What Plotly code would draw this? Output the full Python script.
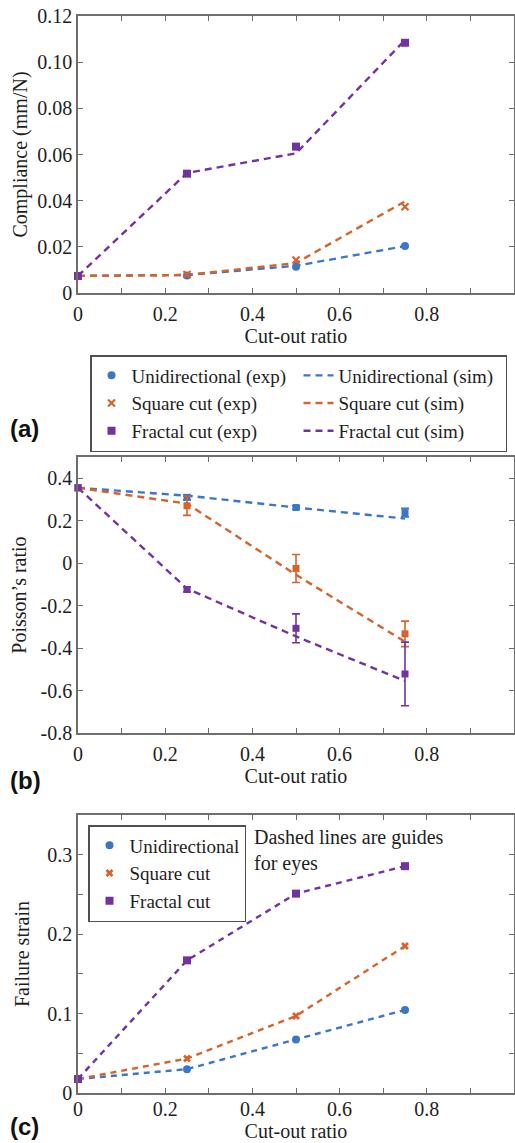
import plotly.graph_objects as go

W, H = 515, 1143

# ---------------- data ----------------
cut_ratio = [0, 0.25, 0.5, 0.75]

# (a) Compliance (mm/N)
comp_uni_exp = [0.0074, 0.0076, 0.0114, 0.0204]
comp_uni_sim = [0.0074, 0.0078, 0.0118, 0.0203]
comp_sq_exp = [0.0074, 0.0080, 0.0143, 0.0374]
comp_sq_sim = [0.0074, 0.0078, 0.0130, 0.0397]
comp_fr_exp = [0.0074, 0.0517, 0.0634, 0.1084]
comp_fr_sim = [0.0074, 0.0520, 0.0605, 0.1096]

# (b) Poisson's ratio
pr_uni_exp = [0.355, 0.310, 0.262, 0.238]
pr_uni_err = [0.0, 0.012, 0.008, 0.020]
pr_sq_exp = [0.355, 0.270, -0.025, -0.333]
pr_sq_err = [0.0, 0.045, 0.066, 0.060]
pr_fr_exp = [0.355, -0.124, -0.307, -0.522]
pr_fr_err = [0.0, 0.012, 0.068, 0.150]
pr_uni_sim = [0.355, 0.318, 0.262, 0.210]
pr_sq_sim = [0.355, 0.280, -0.055, -0.370]
pr_fr_sim = [0.355, -0.120, -0.345, -0.555]

# (c) Failure strain
fs_uni = [0.0177, 0.0300, 0.0675, 0.1046]
fs_sq = [0.0177, 0.0434, 0.0970, 0.1850]
fs_fr = [0.0177, 0.1670, 0.2510, 0.2856]

x_ticks = [0, 0.1, 0.2, 0.3, 0.4, 0.5, 0.6, 0.7, 0.8, 0.9, 1.0]
x_ticktext = ["0", "", "0.2", "", "0.4", "", "0.6", "", "0.8", "", "1"]
ya_ticks = [0, 0.02, 0.04, 0.06, 0.08, 0.10, 0.12]
ya_ticktext = ["0", "0.02", "0.04", "0.06", "0.08", "0.10", "0.12"]
yb_ticks = [-0.8, -0.6, -0.4, -0.2, 0, 0.2, 0.4]
yb_ticktext = ["-0.8", "-0.6", "-0.4", "-0.2", "0", "0.2", "0.4"]
yc_ticks = [0, 0.05, 0.1, 0.15, 0.2, 0.25, 0.3]
yc_ticktext = ["0", "", "0.1", "", "0.2", "", "0.3"]

names = ["Unidirectional", "Square cut", "Fractal cut"]

# ---------------- style ----------------
BLUE = "#3B77C6"
ORANGE = "#D6632B"
PURPLE = "#7233A0"
SERIF = "Liberation Serif, Times New Roman, serif"
AX = "#6E6E6E"
TXT = "#1E1E1E"
DASH = "7px,5px"

fig = go.Figure()

cols = [BLUE, ORANGE, PURPLE]

# ---- panel (a) ----
sims_a = [comp_uni_sim, comp_sq_sim, comp_fr_sim]
exps_a = [comp_uni_exp, comp_sq_exp, comp_fr_exp]
syms_a = ["circle", "x-thin", "square"]
for i in range(3):
    fig.add_trace(go.Scatter(
        x=cut_ratio, y=sims_a[i], mode="lines", name=names[i] + " (sim)",
        line=dict(color=cols[i], width=2.4, dash=DASH),
        xaxis="x", yaxis="y", legend="legend", legendrank=2 * i + 2, cliponaxis=False))
for i in range(3):
    fig.add_trace(go.Scatter(
        x=cut_ratio, y=exps_a[i], mode="markers", name=names[i] + " (exp)",
        marker=dict(color=cols[i], size=8 if i != 1 else 7, symbol=syms_a[i],
                    line=dict(color=cols[i], width=2.2 if i == 1 else 0)),
        xaxis="x", yaxis="y", legend="legend", legendrank=2 * i + 1, cliponaxis=False))

# ---- panel (b) ----
sims_b = [pr_uni_sim, pr_sq_sim, pr_fr_sim]
exps_b = [pr_uni_exp, pr_sq_exp, pr_fr_exp]
errs_b = [pr_uni_err, pr_sq_err, pr_fr_err]
for i in range(3):
    fig.add_trace(go.Scatter(
        x=cut_ratio, y=sims_b[i], mode="lines", showlegend=False,
        line=dict(color=cols[i], width=2.4, dash=DASH),
        xaxis="x2", yaxis="y2", cliponaxis=False))
for i in range(3):
    fig.add_trace(go.Scatter(
        x=cut_ratio, y=exps_b[i], mode="markers", showlegend=False,
        marker=dict(color=cols[i], size=7, symbol="square"),
        error_y=dict(type="data", array=errs_b[i], color=cols[i], thickness=1.6, width=4),
        xaxis="x2", yaxis="y2", cliponaxis=False))

# ---- panel (c) ----
vals_c = [fs_uni, fs_sq, fs_fr]
syms_c = ["circle", "x", "square"]
for i in range(3):
    fig.add_trace(go.Scatter(
        x=cut_ratio, y=vals_c[i], mode="lines", showlegend=False,
        line=dict(color=cols[i], width=2.4, dash="6px,5px"),
        xaxis="x3", yaxis="y3", cliponaxis=False))
for i in range(3):
    fig.add_trace(go.Scatter(
        x=cut_ratio, y=vals_c[i], mode="markers", name=names[i],
        marker=dict(color=cols[i], size=8 if i != 1 else 7, symbol=syms_c[i]),
        xaxis="x3", yaxis="y3", legend="legend2", cliponaxis=False))


def py(px):
    return 1 - px / H


XDOM = [78 / W, 514 / W]
axis_common = dict(
    showline=True, linecolor=AX, linewidth=1.5, mirror="ticks",
    ticks="inside", ticklen=5, tickcolor=AX, tickwidth=1.3,
    showgrid=False, zeroline=False, automargin=False,
    tickfont=dict(family=SERIF, size=20, color=TXT),
)


def xaxis(anchor, lab_off, standoff):
    return dict(axis_common, domain=XDOM, anchor=anchor, range=[0, 1],
                tickmode="array", tickvals=x_ticks, ticktext=x_ticktext,
                ticklabelstandoff=lab_off,
                title=dict(text="Cut-out ratio", font=dict(family=SERIF, size=20, color=TXT),
                           standoff=standoff))


def yaxis(anchor, dom, rng, tv, tt, title, standoff):
    return dict(axis_common, domain=dom, anchor=anchor, range=rng,
                tickmode="array", tickvals=tv, ticktext=tt,
                title=dict(text=title, font=dict(family=SERIF, size=20, color=TXT),
                           standoff=standoff))


fig.update_layout(
    width=W, height=H,
    margin=dict(l=0, r=0, t=0, b=0),
    paper_bgcolor="white", plot_bgcolor="white",
    showlegend=True,
    xaxis=xaxis("y", 2, 2),
    yaxis=yaxis("x", [py(293), py(16)], [0, 0.12], ya_ticks, ya_ticktext,
                "Compliance (mm/N)", 4),
    xaxis2=xaxis("y2", 2, 4),
    yaxis2=yaxis("x2", [py(733), py(457)], [-0.8, 0.5], yb_ticks, yb_ticktext,
                 "Poisson’s ratio", 9),
    xaxis3=xaxis("y3", -3, 2),
    yaxis3=yaxis("x3", [py(1093), py(815)], [0, 0.35], yc_ticks, yc_ticktext,
                 "Failure strain", 12),
    legend=dict(
        x=90 / W, y=py(355), xanchor="left", yanchor="top",
        orientation="h", entrywidth=162, entrywidthmode="pixels",
        traceorder="normal",
        font=dict(family=SERIF, size=19, color=TXT),
        bordercolor="#505050", borderwidth=1.5, bgcolor="white",
        itemsizing="trace",
    ),
    legend2=dict(
        x=88 / W, y=py(825), xanchor="left", yanchor="top",
        orientation="v", traceorder="normal",
        font=dict(family=SERIF, size=19, color=TXT),
        bordercolor="#505050", borderwidth=1.5, bgcolor="white",
        itemsizing="trace", tracegroupgap=0,
    ),
    annotations=[
        dict(text="Dashed lines are guides<br>for eyes", xref="paper", yref="paper",
             x=252 / W, y=py(824), xanchor="left", yanchor="top", align="left",
             showarrow=False, font=dict(family=SERIF, size=20, color=TXT)),
        dict(text="<b>(a)</b>", xref="paper", yref="paper", x=8 / W, y=py(428),
             xanchor="left", yanchor="middle", showarrow=False,
             font=dict(family="Liberation Sans, Arial, sans-serif", size=24, color="#111")),
        dict(text="<b>(b)</b>", xref="paper", yref="paper", x=8 / W, y=py(780),
             xanchor="left", yanchor="middle", showarrow=False,
             font=dict(family="Liberation Sans, Arial, sans-serif", size=24, color="#111")),
        dict(text="<b>(c)</b>", xref="paper", yref="paper", x=8 / W, y=py(1126),
             xanchor="left", yanchor="middle", showarrow=False,
             font=dict(family="Liberation Sans, Arial, sans-serif", size=24, color="#111")),
    ],
)

fig.write_html("out.html")
